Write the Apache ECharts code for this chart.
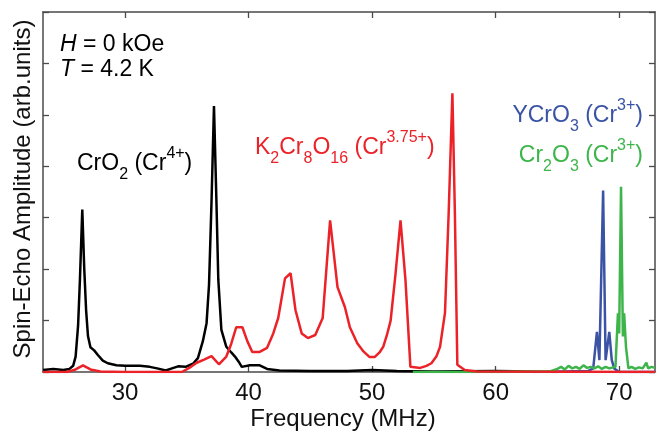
<!DOCTYPE html>
<html><head><meta charset="utf-8">
<script src="https://cdn.jsdelivr.net/npm/echarts@6/dist/echarts.min.js"></script>
<style>html,body{margin:0;padding:0;background:#fff}#c{width:656px;height:435px}</style>
</head><body><div id="c"></div>
<script>
const xTicks = [30, 40, 50, 60, 70];
const blackX = [23.36,24.2,25.0,25.5,25.8,26.0,26.2,26.35,26.54,26.7,26.85,27.0,27.2,27.5,27.8,28.2,28.6,29.3,30.0,31.2,32.0,32.6,33.3,33.8,34.3,34.9,35.5,35.9,36.3,36.6,36.8,37.0,37.2,37.4,37.55,37.8,38.2,38.6,38.9,39.2,39.45,40.1,40.9,41.5,42.5,45,48,50,52,55,60,63,65];
const blackY = [0.04,0.06,0.04,0.06,0.12,0.3,0.9,1.8,3.16,2.0,1.2,0.7,0.48,0.42,0.33,0.22,0.17,0.13,0.12,0.12,0.1,0.07,0.03,0.07,0.11,0.1,0.16,0.27,0.6,0.95,1.7,3.3,5.17,3.3,1.8,0.82,0.49,0.38,0.3,0.2,0.1,0.13,0.13,0.06,0.03,0.02,0.02,0.04,0.02,0.01,0.02,0.01,0.0];
const redX = [23.36,25.3,26.0,26.6,27.2,28.0,30,34.6,35.2,35.8,36.4,37.0,37.6,38.2,38.6,39.0,39.5,39.9,40.3,40.9,41.5,42.0,42.4,42.95,43.4,43.8,44.3,44.8,45.4,46.0,46.3,46.6,47.2,47.8,48.2,48.8,49.3,49.8,50.2,50.6,50.9,51.2,51.5,51.9,52.3,52.7,53.1,53.9,54.4,54.8,55.2,55.5,55.9,56.2,56.5,56.7,56.9,57.5,58.5,72.9];
const redY = [0.0,0.0,0.05,0.13,0.05,0.01,0.0,0.0,0.08,0.18,0.24,0.31,0.15,0.3,0.55,0.87,0.87,0.6,0.39,0.39,0.47,0.75,1.05,1.82,1.92,1.2,0.75,0.66,0.72,1.05,2.0,2.95,1.65,1.26,0.87,0.56,0.4,0.29,0.29,0.38,0.49,0.72,1.0,1.92,2.95,1.79,0.1,0.08,0.12,0.17,0.3,0.49,1.15,3.1,5.42,3.1,0.14,0.04,0.01,0.0];
const blueX = [63.0,67.5,67.9,68.2,68.4,68.7,68.9,69.2,69.4,69.6,70.0,72.9];
const blueY = [0.0,0.02,0.07,0.78,0.23,3.53,0.23,0.78,0.23,0.07,0.0,0.0];
const greenX = [53.3,57.0,60,64.5,65.0,65.3,65.6,65.9,66.2,66.5,66.8,67.1,67.4,67.7,68.0,68.3,68.6,68.9,69.2,69.5,69.7,69.9,70.0,70.15,70.3,70.4,70.55,70.75,71.0,71.3,71.6,71.9,72.2,72.35,72.6,72.9];
const greenY = [0.0,0.0,0.0,0.02,0.06,0.1,0.05,0.12,0.07,0.1,0.06,0.13,0.08,0.1,0.07,0.11,0.06,0.1,0.07,0.09,0.1,1.14,0.75,3.6,0.69,1.14,0.49,0.07,0.1,0.06,0.09,0.07,0.18,0.07,0.1,0.08];

const pair = (xs, ys) => xs.map((x, i) => [x, ys[i]]);
const FONT = 'Liberation Sans, Arial, Helvetica, sans-serif';
const AX = '#4a4a4a';
const XMIN = 23.36, XMAX = 72.9;

const chart = echarts.init(document.getElementById('c'), null, {renderer: 'canvas'});

function axisX(pos, labels) {
  return {
    type: 'value', position: pos, min: XMIN, max: XMAX,
    axisLine: {show: true, onZero: false, lineStyle: {color: AX, width: 1.5}},
    axisTick: {show: true, inside: true, length: 6, customValues: xTicks, lineStyle: {color: AX, width: 1.3}},
    axisLabel: {show: labels, customValues: xTicks, fontSize: 24, color: '#111', fontFamily: FONT, margin: 9},
    splitLine: {show: false}
  };
}
function axisY(pos) {
  return {
    type: 'value', position: pos, min: 0, max: 7, interval: 1,
    axisLine: {show: true, onZero: false, lineStyle: {color: AX, width: 1.5}},
    axisTick: {show: true, inside: true, length: 6, lineStyle: {color: AX, width: 1.3}},
    axisLabel: {show: false},
    splitLine: {show: false}
  };
}

const rich = (color) => ({
  sup: {fontSize: 16, lineHeight: 16, verticalAlign: 'top', fill: color, fontFamily: FONT},
  sub: {fontSize: 16, lineHeight: 22, verticalAlign: 'bottom', fill: color, fontFamily: FONT},
  i: {fontStyle: 'italic', fontSize: 23, fill: color, fontFamily: FONT}
});
function label(text, x, y, color, align) {
  return {
    type: 'text', x: x, y: y, z: 100,
    style: {text: text, fill: color, fontSize: 23, fontFamily: FONT, lineHeight: 37,
      align: align || 'left', verticalAlign: 'middle', rich: rich(color)}
  };
}

const option = {
  animation: false,
  backgroundColor: '#fff',
  grid: {left: 43, right: 1, top: 12, bottom: 63},
  xAxis: [axisX('bottom', true), axisX('top', false)],
  yAxis: [axisY('left'), axisY('right')],
  series: [
    {type: 'line', data: pair(blackX, blackY), showSymbol: false, lineStyle: {color: '#000', width: 2.5}, z: 3},
    {type: 'line', data: pair(blueX, blueY), showSymbol: false, lineStyle: {color: '#3a53a4', width: 2.5}, z: 4},
    {type: 'line', data: pair(greenX, greenY), showSymbol: false, lineStyle: {color: '#3db54a', width: 2.5}, z: 5},
    {type: 'line', data: pair(redX, redY), showSymbol: false, lineStyle: {color: '#ec2229', width: 2.5}, z: 6}
  ],
  graphic: [
    label('{i|H} = 0 kOe', 60, 45, '#000'),
    label('{i|T} = 4.2 K', 60, 70, '#000'),
    label('CrO{sub|2} (Cr{sup|4+})', 77, 164, '#000'),
    label('K{sub|2}Cr{sub|8}O{sub|16} (Cr{sup|3.75+})', 255, 148, '#ec2229'),
    label('YCrO{sub|3} (Cr{sup|3+})', 643, 116, '#3a53a4', 'right'),
    label('Cr{sub|2}O{sub|3} (Cr{sup|3+})', 643, 156, '#3db54a', 'right'),
    {type: 'text', x: 23, y: 189, rotation: Math.PI / 2, z: 100,
      style: {text: 'Spin-Echo Amplitude (arb.units)', fill: '#111', fontSize: 24, fontFamily: FONT, align: 'center', verticalAlign: 'middle'}},
    {type: 'text', x: 343, y: 419, z: 100,
      style: {text: 'Frequency (MHz)', fill: '#111', fontSize: 24, fontFamily: FONT, align: 'center', verticalAlign: 'middle'}}
  ]
};
chart.setOption(option);
</script></body></html>
